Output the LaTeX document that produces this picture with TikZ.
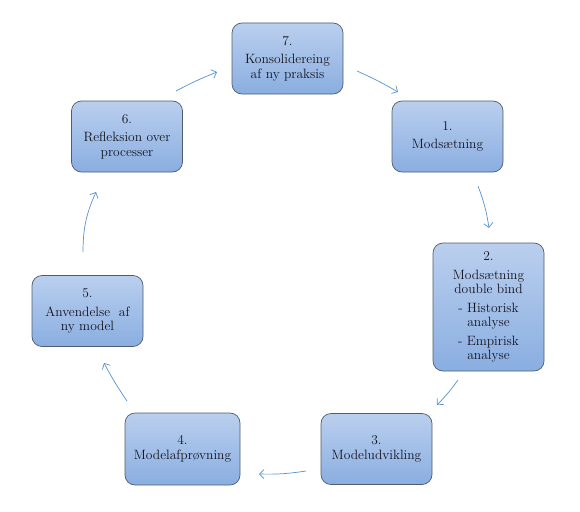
\documentclass[tikz,border=0pt]{standalone}
\usetikzlibrary{arrows.meta,shapes.misc}
\definecolor{boxtop}{RGB}{186,207,238}
\definecolor{boxbot}{RGB}{138,174,225}
\definecolor{boxline}{RGB}{78,92,110}
\definecolor{arrcol}{RGB}{86,146,206}
\definecolor{txtcol}{RGB}{20,20,30}
\tikzset{
  stepbox/.style={draw=boxline, line width=0.7pt, rounded corners=10pt,
    top color=boxtop, bottom color=boxbot, minimum width=111pt, minimum height=71pt,
    inner sep=0pt, align=center, text=txtcol, font=\fontsize{13.5}{14.5}\selectfont},
  cyc/.style={draw=arrcol, line width=0.7pt, -{Straight Barb[length=4.5pt,width=9pt,line width=0.7pt]}},
}
\begin{document}
\begin{tikzpicture}[x=1pt,y=-1pt]
\useasboundingbox (0,0) rectangle (580,511);
\node[stepbox] (n7) at (287.5,58.5) {7.\\[4pt] Konsolidereing\\af ny praksis};
\node[stepbox] (n1) at (447.5,136.5) {1.\\[4pt] Mods\ae tning};
\node[stepbox] (n6) at (127,136.5) {6.\\[4pt] Refleksion over\\processer};
\node[stepbox, minimum height=128pt] (n2) at (488.5,307) {2.\\[4pt] Mods\ae tning\\double bind\\[4pt] - Historisk\\analyse\\[4pt] - Empirisk\\analyse};
\node[stepbox] (n5) at (87.5,311) {5.\\[4pt] Anvendelse\ \ af\\ny model};
\node[stepbox, minimum width=115pt, minimum height=72pt] (n4) at (182.5,449) {4.\\Modelafpr\o vning};
\node[stepbox] (n3) at (376.5,449) {3.\\Modeludvikling};
\coordinate (a71s) at (357,71);   \coordinate (a71e) at (398,92);
\coordinate (a12s) at (478,186);  \coordinate (a12e) at (489,228);
\coordinate (a23s) at (458,380);  \coordinate (a23e) at (437,405);
\coordinate (a34s) at (306,471);  \coordinate (a34e) at (259,474);
\coordinate (a45s) at (127,401);  \coordinate (a45e) at (104,363);
\coordinate (a56s) at (83,252);   \coordinate (a56e) at (96,192);
\coordinate (a67s) at (176,91);   \coordinate (a67e) at (217,72);
\draw[cyc] (a71s) to[bend left=3] (a71e);
\draw[cyc] (a12s) to[bend left=6] (a12e);
\draw[cyc] (a23s) to[bend left=4] (a23e);
\draw[cyc] (a34s) to[bend left=5] (a34e);
\draw[cyc] (a45s) to[bend left=3] (a45e);
\draw[cyc] (a56s) to[bend left=12] (a56e);
\draw[cyc] (a67s) to[bend left=3] (a67e);
\end{tikzpicture}
\end{document}
